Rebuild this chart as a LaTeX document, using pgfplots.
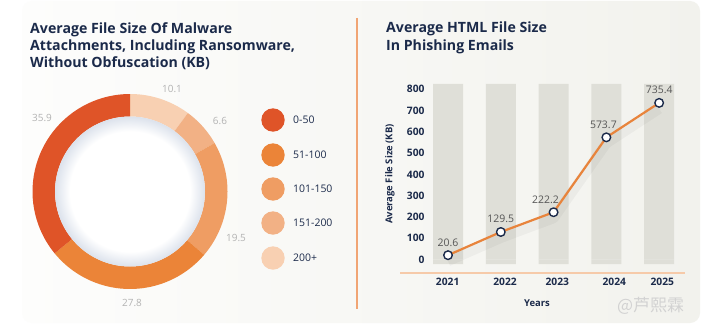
\documentclass[border=0pt]{standalone}
\usepackage{pgfplots}
\pgfplotsset{compat=1.18}
\usepackage{pgfplotstable}
\usepackage{fontspec}
\setmainfont{Open Sans}
\newfontfamily\cjk{Noto Sans CJK SC}
\definecolor{navy}{HTML}{1B2A4A}
\definecolor{cA}{HTML}{DF5428}
\definecolor{cB}{HTML}{EB8438}
\definecolor{cC}{HTML}{EF9D63}
\definecolor{cD}{HTML}{F2B185}
\definecolor{cE}{HTML}{F8D0B2}
\definecolor{lineor}{HTML}{E8843C}
\definecolor{peach}{HTML}{F6CAA9}
\definecolor{divider}{HTML}{F1A574}
\definecolor{colbar}{HTML}{DFDFD8}
\definecolor{cardL}{HTML}{FDFDFC}
\definecolor{cardR}{HTML}{F2F2ED}
\definecolor{pielbl}{HTML}{B3B3B3}
\definecolor{ptlbl}{HTML}{555555}
\definecolor{shadowc}{HTML}{DCE2EC}
\definecolor{wm}{HTML}{D2D2D2}
\pgfdeclareradialshading{innershadow}{\pgfpointorigin}{color(0bp)=(white); color(20bp)=(white); color(25bp)=(shadowc); color(50bp)=(shadowc)}

% ring sector: #1 cumulative start, #2 value, #3 colour
\newcommand\sector[3]{%
  \addplot[fill=#3, draw=none, domain=0:3, samples=121, variable=\t]
  ({ifthenelse(\t<1, 97.5*cos(90-3.6036*(#1)-3.6036*(#2)*\t),
     ifthenelse(\t<2, (97.5-22.5*(\t-1))*cos(90-3.6036*((#1)+(#2))),
       75*cos(90-3.6036*((#1)+(#2))+3.6036*(#2)*(\t-2))))},
   {ifthenelse(\t<1, 97.5*sin(90-3.6036*(#1)-3.6036*(#2)*\t),
     ifthenelse(\t<2, (97.5-22.5*(\t-1))*sin(90-3.6036*((#1)+(#2))),
       75*sin(90-3.6036*((#1)+(#2))+3.6036*(#2)*(\t-2))))}) -- cycle;
}

\pgfplotstableread{
x y dx
0 20.6 0
1 129.5 0
2 222.2 -8
3 573.7 -3
4 735.4 0
}\htmldata

\begin{document}
\begin{tikzpicture}[x=1bp,y=1bp]
\useasboundingbox (0,0) rectangle (704,332);
\fill[white] (0,0) rectangle (704,332);
\shade[left color=cardL, right color=cardR, rounded corners=10bp] (22,9) rectangle (700,331);
\draw[divider, line width=1.3bp] (357,314) -- (357,23);

\node[anchor=north west, inner sep=0pt, align=left, text=navy, font=\fontsize{14.2}{17.5}\selectfont\bfseries] at (30,310)
  {Average File Size Of Malware\\Attachments, Including Ransomware,\\Without Obfuscation (KB)};
\node[anchor=north west, inner sep=0pt, align=left, text=navy, font=\fontsize{14.2}{17.5}\selectfont\bfseries] at (386,310)
  {Average HTML File Size\\In Phishing Emails};

% donut
\begin{axis}[at={(130bp,140.5bp)}, anchor=center, scale only axis, width=240bp, height=240bp,
  xmin=-120, xmax=120, ymin=-120, ymax=120, hide axis, clip=false]
  \sector{0}{10.1}{cE}
  \sector{10.1}{6.6}{cD}
  \sector{16.7}{19.5}{cC}
  \sector{36.2}{27.8}{cB}
  \sector{64.0}{35.9}{cA}
  \shade[shading=innershadow] (axis cs:0,0) circle[radius=75bp];
  \node[text=pielbl, font=\fontsize{10}{12}\selectfont] at (axis cs:42,102.5) {10.1};
  \node[text=pielbl, font=\fontsize{10}{12}\selectfont] at (axis cs:90,70.5) {6.6};
  \node[text=pielbl, font=\fontsize{10}{12}\selectfont] at (axis cs:106,-46.5) {19.5};
  \node[text=pielbl, font=\fontsize{10}{12}\selectfont] at (axis cs:2,-111.5) {27.8};
  \node[text=pielbl, font=\fontsize{10}{12}\selectfont] at (axis cs:-88,73.5) {35.9};
\end{axis}

\foreach \yy/\cc/\lab in {212/cA/0-50, 177/cB/51-100, 143/cC/101-150, 109/cD/151-200, 74/cE/200+}{
  \fill[\cc] (273,\yy) circle[radius=11.7];
  \node[anchor=west, inner sep=0pt, text=navy, font=\fontsize{10.5}{12}\selectfont] at (293,\yy) {\lab};
}

% line chart
\begin{axis}[at={(428bp,59bp)}, anchor=south west, scale only axis, width=257bp, height=189bp,
  xmin=-0.379, xmax=4.49, ymin=-63, ymax=824, clip=false,
  axis line style={draw=none}, major tick length=0pt,
  ytick={0,100,...,800},
  xtick={-0.006,1.08,2.07,3.15,4.06}, xticklabels={2021,2022,2023,2024,2025},
  /pgf/number format/assume math mode=true,
  tick label style={text=navy, font=\fontsize{10.3}{12}\selectfont\bfseries},
  xticklabel style={yshift=-2bp},
  xlabel={Years}, ylabel={Average File Size (KB)},
  every axis x label/.style={at={(rel axis cs:0.424,-0.157)}, anchor=center, text=navy, font=\fontsize{9.5}{11}\selectfont\bfseries},
  every axis y label/.style={at={(rel axis cs:-0.148,0.524)}, anchor=center, rotate=90, text=navy, font=\fontsize{9.5}{11}\selectfont\bfseries},
]
  \addplot[ybar, bar width=30bp, bar shift=0pt, fill=colbar, draw=none] coordinates {(0,824) (1,824) (2,824) (3,824) (4,824)};
  \addplot[ybar, bar width=30bp, bar shift=0pt, fill=colbar, draw=none] coordinates {(0,-21) (1,-21) (2,-21) (3,-21) (4,-21)};
  \addplot[black, opacity=0.035, line width=10bp, yshift=-6bp, line join=round] table[x=x, y=y] {\htmldata};
  \addplot[lineor, line width=2.2bp, line join=round, mark=*, mark size=4.3bp,
    mark options={fill=white, draw=navy, line width=1.4bp},
    nodes near coords,
    visualization depends on={\thisrow{dx} \as \dx},
    every node near coord/.append style={anchor=south, yshift=5bp, xshift=\dx bp, text=ptlbl, font=\fontsize{10.5}{12}\selectfont}]
    table[x=x, y=y] {\htmldata};
  \draw[peach, line width=2bp] ([xshift=-28bp]rel axis cs:0,0) -- (rel axis cs:1,0);
\end{axis}

\node[anchor=west, inner sep=0pt, text=wm, font=\cjk\fontsize{17}{20}\selectfont] at (617,26) {@芦熙霖};
\end{tikzpicture}
\end{document}
